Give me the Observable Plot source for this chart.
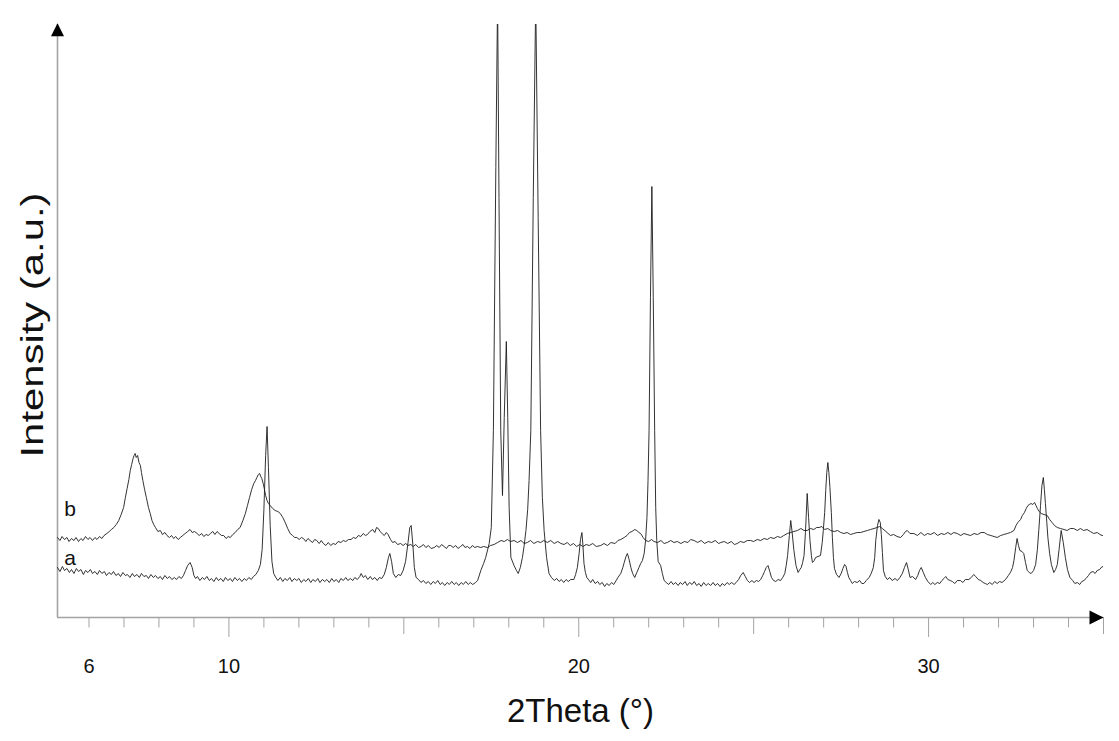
<!DOCTYPE html>
<html>
<head>
<meta charset="utf-8">
<script src="https://cdn.jsdelivr.net/npm/d3@7"></script>
<script src="https://cdn.jsdelivr.net/npm/@observablehq/plot@0.6"></script>
<style>
  body { margin: 0; background: #fff; }
  #chart { width: 1119px; height: 741px; }
</style>
</head>
<body>
<div id="chart"></div>
<script>
// Difractogramas: muestra a (abajo) y muestra b (arriba). Pares [2theta, intensidad a.u.]
const traceA = [
  [5.10,50],[5.17,46],[5.24,51],[5.30,47],[5.37,49],[5.44,45],[5.50,48],[5.57,44],[5.64,49],[5.70,46],
  [5.77,48],[5.84,43],[5.90,47],[5.97,45],[6.04,48],[6.10,44],[6.17,46],[6.24,43],[6.30,47],[6.37,44],
  [6.44,46],[6.50,42],[6.57,45],[6.64,43],[6.70,46],[6.77,42],[6.84,44],[6.90,41],[6.97,45],[7.04,42],
  [7.10,43],[7.17,40],[7.24,44],[7.30,41],[7.37,43],[7.44,40],[7.50,44],[7.57,41],[7.64,42],[7.70,39],
  [7.77,43],[7.84,40],[7.90,42],[7.97,39],[8.04,41],[8.10,38],[8.17,42],[8.24,39],[8.30,41],[8.37,38],
  [8.44,40],[8.50,38],[8.57,41],[8.64,39],[8.70,42],[8.76,47],[8.82,52],[8.89,55],[8.95,50],[9.00,42],
  [9.05,39],[9.10,41],[9.17,37],[9.24,40],[9.30,38],[9.37,41],[9.44,37],[9.50,39],[9.57,36],[9.64,40],
  [9.70,37],[9.77,39],[9.84,36],[9.90,40],[9.97,37],[10.04,39],[10.10,36],[10.17,40],[10.24,37],[10.30,39],
  [10.37,36],[10.44,39],[10.50,37],[10.57,40],[10.64,38],[10.70,41],[10.77,43],[10.84,47],[10.90,53],[10.95,68],
  [11.00,108],[11.05,162],[11.09,191],[11.13,150],[11.18,92],[11.23,56],[11.28,44],[11.34,40],[11.40,37],[11.47,40],
  [11.54,36],[11.60,39],[11.67,37],[11.74,40],[11.80,36],[11.87,39],[11.94,37],[12.00,39],[12.07,35],[12.14,38],
  [12.20,36],[12.27,39],[12.34,35],[12.40,38],[12.47,36],[12.54,39],[12.60,35],[12.67,38],[12.74,36],[12.80,38],
  [12.87,35],[12.94,39],[13.00,36],[13.07,38],[13.14,35],[13.20,39],[13.27,37],[13.34,40],[13.40,37],[13.47,39],
  [13.54,37],[13.60,40],[13.67,38],[13.74,41],[13.78,44],[13.84,40],[13.90,42],[13.97,38],[14.04,41],[14.10,38],
  [14.17,40],[14.24,37],[14.30,40],[14.37,39],[14.44,43],[14.50,50],[14.56,60],[14.60,64],[14.65,56],[14.70,44],
  [14.77,40],[14.84,43],[14.91,42],[14.98,47],[15.05,56],[15.12,75],[15.17,90],[15.21,92],[15.26,72],[15.30,50],
  [15.35,40],[15.42,38],[15.49,35],[15.56,37],[15.63,34],[15.70,36],[15.77,33],[15.84,36],[15.90,34],[15.97,37],
  [16.04,33],[16.10,35],[16.17,32],[16.24,35],[16.30,33],[16.37,36],[16.44,33],[16.50,35],[16.57,32],[16.64,35],
  [16.70,33],[16.77,36],[16.84,33],[16.90,35],[16.97,33],[17.05,35],[17.11,37],[17.20,47],[17.28,54],[17.34,60],
  [17.44,74],[17.50,90],[17.56,187],[17.63,450],[17.68,620],[17.72,420],[17.77,187],[17.82,122],[17.87,200],[17.93,276],
  [17.97,200],[18.01,110],[18.06,60],[18.15,52],[18.22,47],[18.27,44],[18.33,50],[18.39,60],[18.44,72],[18.49,87],
  [18.54,108],[18.58,137],[18.63,187],[18.70,420],[18.77,620],[18.84,400],[18.91,187],[18.96,120],[19.01,87],[19.08,60],
  [19.15,44],[19.22,40],[19.30,37],[19.37,39],[19.44,36],[19.50,38],[19.57,35],[19.64,38],[19.70,36],[19.77,38],
  [19.86,38],[19.91,43],[19.96,50],[20.01,64],[20.05,78],[20.09,85],[20.12,72],[20.15,54],[20.19,45],[20.23,40],
  [20.30,37],[20.34,35],[20.40,38],[20.47,34],[20.54,36],[20.60,33],[20.67,35],[20.74,31],[20.80,34],[20.87,32],
  [20.94,35],[21.00,33],[21.07,37],[21.12,40],[21.20,44],[21.26,50],[21.30,55],[21.35,61],[21.39,64],[21.44,58],
  [21.49,50],[21.54,44],[21.60,40],[21.66,45],[21.72,50],[21.77,54],[21.82,57],[21.87,64],[21.91,77],[21.95,100],
  [21.98,137],[22.01,187],[22.05,320],[22.09,431],[22.13,320],[22.17,187],[22.20,110],[22.23,77],[22.27,56],[22.34,52],
  [22.39,44],[22.44,37],[22.50,35],[22.57,33],[22.64,36],[22.70,33],[22.77,35],[22.84,32],[22.90,35],[22.97,33],
  [23.04,36],[23.10,32],[23.17,35],[23.24,33],[23.30,36],[23.37,32],[23.44,34],[23.50,31],[23.57,35],[23.64,32],
  [23.70,34],[23.77,32],[23.84,35],[23.90,32],[23.97,34],[24.04,31],[24.10,34],[24.17,32],[24.24,35],[24.30,33],
  [24.37,35],[24.44,33],[24.50,35],[24.57,38],[24.63,42],[24.70,45],[24.76,41],[24.82,37],[24.88,35],[24.95,37],
  [25.01,35],[25.08,37],[25.14,36],[25.20,38],[25.26,42],[25.31,46],[25.36,50],[25.41,52],[25.46,46],[25.51,40],
  [25.57,37],[25.63,36],[25.70,38],[25.77,37],[25.83,40],[25.89,44],[25.93,52],[25.97,62],[26.02,82],[26.06,97],
  [26.10,85],[26.15,67],[26.21,52],[26.27,45],[26.32,48],[26.36,50],[26.40,55],[26.44,62],[26.48,85],[26.53,124],
  [26.57,100],[26.61,77],[26.65,62],[26.68,55],[26.73,57],[26.77,60],[26.84,61],[26.91,62],[26.96,75],[26.99,87],
  [27.03,105],[27.06,127],[27.09,145],[27.12,155],[27.15,145],[27.18,130],[27.22,105],[27.25,80],[27.28,60],[27.31,49],
  [27.37,43],[27.44,40],[27.50,44],[27.55,49],[27.60,53],[27.64,51],[27.68,45],[27.72,40],[27.77,37],[27.82,34],
  [27.88,36],[27.96,35],[28.03,37],[28.09,34],[28.15,34],[28.22,37],[28.30,40],[28.36,44],[28.42,50],[28.46,60],
  [28.49,77],[28.54,92],[28.58,98],[28.62,95],[28.65,83],[28.68,65],[28.71,47],[28.76,41],[28.82,38],[28.89,40],
  [28.96,37],[29.04,39],[29.11,37],[29.18,40],[29.25,44],[29.31,50],[29.37,55],[29.42,48],[29.47,40],[29.54,41],
  [29.63,38],[29.69,42],[29.74,47],[29.79,50],[29.85,45],[29.91,40],[29.98,36],[30.06,33],[30.12,35],[30.18,33],
  [30.25,35],[30.32,34],[30.38,37],[30.44,39],[30.49,41],[30.55,38],[30.62,37],[30.68,36],[30.75,34],[30.82,37],
  [30.91,37],[30.98,35],[31.05,38],[31.15,38],[31.22,40],[31.29,43],[31.35,41],[31.42,38],[31.49,37],[31.56,35],
  [31.62,34],[31.68,33],[31.75,35],[31.82,33],[31.89,36],[31.96,34],[32.03,36],[32.10,35],[32.20,38],[32.28,42],
  [32.34,45],[32.40,50],[32.44,57],[32.49,70],[32.53,79],[32.57,72],[32.61,67],[32.67,66],[32.72,64],[32.77,55],
  [32.82,47],[32.88,45],[32.93,44],[33.00,47],[33.06,53],[33.11,68],[33.15,87],[33.20,112],[33.24,132],[33.28,140],
  [33.31,128],[33.34,114],[33.38,95],[33.41,80],[33.46,64],[33.51,53],[33.58,45],[33.63,48],[33.68,53],[33.73,68],
  [33.79,87],[33.85,75],[33.91,60],[33.97,48],[34.04,40],[34.12,37],[34.18,34],[34.25,35],[34.32,33],[34.38,36],
  [34.44,37],[34.50,39],[34.57,42],[34.63,45],[34.70,46],[34.76,44],[34.82,47],[34.89,48],[34.96,51],[35.00,50]
]

const traceB = [
  [5.10,80],[5.17,77],[5.23,81],[5.30,78],[5.37,80],[5.43,76],[5.50,79],[5.57,77],[5.63,80],[5.70,76],
  [5.77,79],[5.83,77],[5.90,81],[5.97,78],[6.03,80],[6.10,77],[6.17,80],[6.23,78],[6.30,81],[6.37,79],
  [6.43,82],[6.51,84],[6.58,86],[6.64,88],[6.71,90],[6.78,93],[6.85,97],[6.92,103],[6.99,110],[7.04,120],
  [7.09,129],[7.14,138],[7.18,147],[7.22,153],[7.26,159],[7.29,162],[7.32,164],[7.35,160],[7.39,162],[7.43,155],
  [7.47,152],[7.50,145],[7.54,137],[7.59,128],[7.64,120],[7.70,110],[7.75,104],[7.80,97],[7.85,93],[7.90,90],
  [7.97,86],[8.04,87],[8.10,83],[8.17,85],[8.23,82],[8.30,80],[8.36,82],[8.42,79],[8.48,81],[8.55,78],
  [8.61,80],[8.68,82],[8.75,84],[8.82,86],[8.89,88],[8.95,85],[9.02,86],[9.09,84],[9.15,82],[9.22,84],
  [9.28,81],[9.35,83],[9.41,82],[9.47,84],[9.54,86],[9.60,83],[9.66,86],[9.72,84],[9.79,82],[9.85,82],
  [9.92,79],[9.98,81],[10.04,80],[10.11,83],[10.18,85],[10.25,88],[10.32,90],[10.40,97],[10.47,104],[10.53,112],
  [10.59,120],[10.65,128],[10.71,134],[10.76,137],[10.80,140],[10.84,143],[10.88,144],[10.91,141],[10.94,139],[10.98,134],
  [11.01,129],[11.05,122],[11.09,117],[11.13,114],[11.18,112],[11.25,109],[11.32,107],[11.40,106],[11.47,104],[11.54,100],
  [11.61,95],[11.68,89],[11.75,84],[11.82,82],[11.88,80],[11.94,80],[12.01,78],[12.07,80],[12.13,79],[12.20,76],
  [12.26,79],[12.32,77],[12.39,75],[12.45,78],[12.51,77],[12.58,74],[12.64,77],[12.70,74],[12.77,72],[12.84,75],
  [12.91,72],[12.98,74],[13.05,73],[13.12,76],[13.20,75],[13.27,77],[13.34,76],[13.42,78],[13.49,78],[13.56,80],
  [13.63,79],[13.70,82],[13.77,81],[13.84,84],[13.90,82],[13.96,83],[14.03,86],[14.11,88],[14.17,85],[14.22,90],
  [14.27,89],[14.32,86],[14.38,84],[14.44,82],[14.50,85],[14.55,83],[14.62,78],[14.68,75],[14.75,76],[14.82,73],
  [14.91,74],[14.98,72],[15.05,74],[15.12,72],[15.20,73],[15.27,71],[15.34,73],[15.42,70],[15.49,71],[15.56,73],
  [15.63,70],[15.70,72],[15.78,69],[15.87,70],[15.94,72],[16.01,70],[16.08,73],[16.15,71],[16.22,69],[16.28,72],
  [16.34,72],[16.41,70],[16.48,72],[16.55,69],[16.62,71],[16.69,73],[16.75,70],[16.82,71],[16.89,69],[16.96,72],
  [17.03,70],[17.10,71],[17.20,70],[17.28,71],[17.39,70],[17.48,72],[17.58,73],[17.68,75],[17.78,77],[17.87,76],
  [17.96,78],[18.05,76],[18.15,77],[18.25,75],[18.35,77],[18.44,74],[18.53,75],[18.62,77],[18.72,74],[18.82,76],
  [18.91,75],[19.00,77],[19.10,75],[19.20,77],[19.30,74],[19.40,76],[19.49,74],[19.58,73],[19.67,75],[19.76,72],
  [19.85,74],[19.94,71],[20.03,73],[20.12,71],[20.21,73],[20.30,72],[20.40,74],[20.50,71],[20.63,72],[20.72,74],
  [20.82,72],[20.92,75],[21.04,74],[21.12,77],[21.20,78],[21.30,80],[21.38,82],[21.45,85],[21.52,86],[21.60,88],
  [21.66,87],[21.72,85],[21.77,84],[21.84,80],[21.91,77],[22.00,76],[22.08,78],[22.15,76],[22.25,75],[22.35,77],
  [22.44,74],[22.53,75],[22.63,77],[22.72,75],[22.82,76],[22.92,74],[23.02,76],[23.12,75],[23.20,78],[23.30,77],
  [23.40,75],[23.50,77],[23.60,74],[23.70,76],[23.80,75],[23.90,77],[24.00,74],[24.06,75],[24.16,76],[24.26,74],
  [24.36,76],[24.45,73],[24.53,74],[24.62,76],[24.72,75],[24.82,77],[24.91,77],[25.00,76],[25.10,78],[25.20,77],
  [25.30,79],[25.39,78],[25.48,80],[25.58,79],[25.68,81],[25.77,80],[25.86,82],[25.96,84],[26.06,85],[26.15,86],
  [26.25,87],[26.35,89],[26.44,87],[26.53,87],[26.62,89],[26.72,88],[26.80,90],[26.87,90],[26.95,91],[27.03,88],
  [27.12,89],[27.20,87],[27.30,86],[27.40,87],[27.49,85],[27.58,84],[27.67,85],[27.77,83],[27.86,84],[27.96,85],
  [28.06,85],[28.15,86],[28.25,87],[28.34,88],[28.44,89],[28.53,90],[28.60,91],[28.68,89],[28.78,86],[28.91,82],
  [29.00,83],[29.10,81],[29.20,80],[29.28,83],[29.34,86],[29.39,87],[29.47,84],[29.58,84],[29.68,82],[29.78,85],
  [29.88,82],[29.97,84],[30.06,83],[30.16,85],[30.26,82],[30.36,84],[30.45,83],[30.55,85],[30.64,83],[30.72,85],
  [30.82,84],[30.92,82],[31.01,84],[31.10,83],[31.20,82],[31.30,84],[31.40,83],[31.50,85],[31.59,85],[31.68,83],
  [31.78,82],[31.87,81],[31.96,80],[32.06,82],[32.15,83],[32.25,84],[32.34,85],[32.44,87],[32.50,92],[32.55,95],
  [32.63,98],[32.68,102],[32.74,105],[32.79,109],[32.84,112],[32.88,113],[32.93,114],[32.98,113],[33.03,115],[33.07,112],
  [33.11,109],[33.16,106],[33.22,104],[33.30,103],[33.39,102],[33.46,98],[33.53,95],[33.60,92],[33.68,90],[33.77,89],
  [33.87,88],[33.96,87],[34.05,89],[34.15,89],[34.25,87],[34.34,89],[34.43,87],[34.53,88],[34.62,86],[34.72,84],
  [34.82,85],[34.90,83],[34.96,82],[35.00,82]
]

// etiquetas de las curvas [2theta, intensidad, texto]
const seriesLabels = [[5.29, 102, "b"], [5.29, 53, "a"]]

// rango del eje y marcas del eje x
const thetaRange = [5.1, 35]
const intensityTop = 593
const majorTicks = [10, 20, 30]
const mediumTicks = [15, 25, 35]
const minorTicks = [6, 7, 8, 9, 11, 12, 13, 14, 16, 17, 18, 19, 21, 22, 23, 24, 26, 27, 28, 29, 31, 32, 33, 34]
const tickLabels = [6, 10, 20, 30]

const axisGray = "#a3a3a3"
const font = "'Liberation Sans', Arial, Helvetica, sans-serif"

// puntas de flecha rellenas
const arrowUp = {draw(ctx) { ctx.moveTo(0, -6.5); ctx.lineTo(6.5, 6.5); ctx.lineTo(-6.5, 6.5); ctx.closePath() }}
const arrowRight = {draw(ctx) { ctx.moveTo(7, 0); ctx.lineTo(-7, -7); ctx.lineTo(-7, 7); ctx.closePath() }}

const chart = Plot.plot({
  width: 1119,
  height: 741,
  marginLeft: 57,
  marginRight: 16,
  marginTop: 24,
  marginBottom: 124,
  style: {fontFamily: font, background: "#fff", overflow: "visible"},
  x: {domain: thetaRange, axis: null},
  y: {domain: [0, intensityTop], axis: null},
  marks: [
    // ejes
    Plot.ruleY([0], {stroke: axisGray, strokeWidth: 1.6}),
    Plot.ruleX([thetaRange[0]], {stroke: axisGray, strokeWidth: 1.6}),
    Plot.axisX(minorTicks, {tickSize: 10.5, stroke: axisGray, strokeWidth: 1, fill: "none", label: null}),
    Plot.axisX(mediumTicks, {tickSize: 17, stroke: axisGray, strokeWidth: 1, fill: "none", label: null}),
    Plot.axisX(majorTicks, {tickSize: 20, stroke: axisGray, strokeWidth: 1, fill: "none", label: null}),
    Plot.text(tickLabels, {x: d => d, text: d => String(d), frameAnchor: "bottom", textAnchor: "middle", lineAnchor: "top", dy: 41, fontSize: 20, fill: "#111"}),
    Plot.dot([[thetaRange[1], 0]], {x: d => d[0], y: d => d[1], symbol: arrowRight, fill: "#000", stroke: null, dx: -7}),
    Plot.dot([[thetaRange[0], intensityTop]], {x: d => d[0], y: d => d[1], symbol: arrowUp, fill: "#000", stroke: null, dy: 5.2}),

    // curvas
    Plot.line(traceA, {x: d => d[0], y: d => d[1], stroke: "#1c1c1c", strokeWidth: 0.9, clip: true}),
    Plot.line(traceB, {x: d => d[0], y: d => d[1], stroke: "#1c1c1c", strokeWidth: 0.9, clip: true}),
    Plot.text(seriesLabels, {x: d => d[0], y: d => d[1], text: d => d[2], fontSize: 21, textAnchor: "start", lineAnchor: "bottom", fill: "#111"}),

    // titulos de ejes
    Plot.text(["2Theta (°)"], {frameAnchor: "bottom", textAnchor: "middle", lineAnchor: "bottom", dy: 104, fontSize: 33, fill: "#111"}),
    Plot.text(["Intensity (a.u.)"], {frameAnchor: "left", textAnchor: "middle", lineAnchor: "bottom", rotate: -90, dx: -15, dy: 4, fontSize: 31, fill: "#111"})
  ]
})

d3.select('#chart').append(() => chart)

// el titulo vertical esta estirado en la figura original
d3.select(chart).selectAll('text')
  .filter(function () { return this.textContent === "Intensity (a.u.)" })
  .attr('textLength', 265)
  .attr('lengthAdjust', 'spacingAndGlyphs')
</script>
</body>
</html>
